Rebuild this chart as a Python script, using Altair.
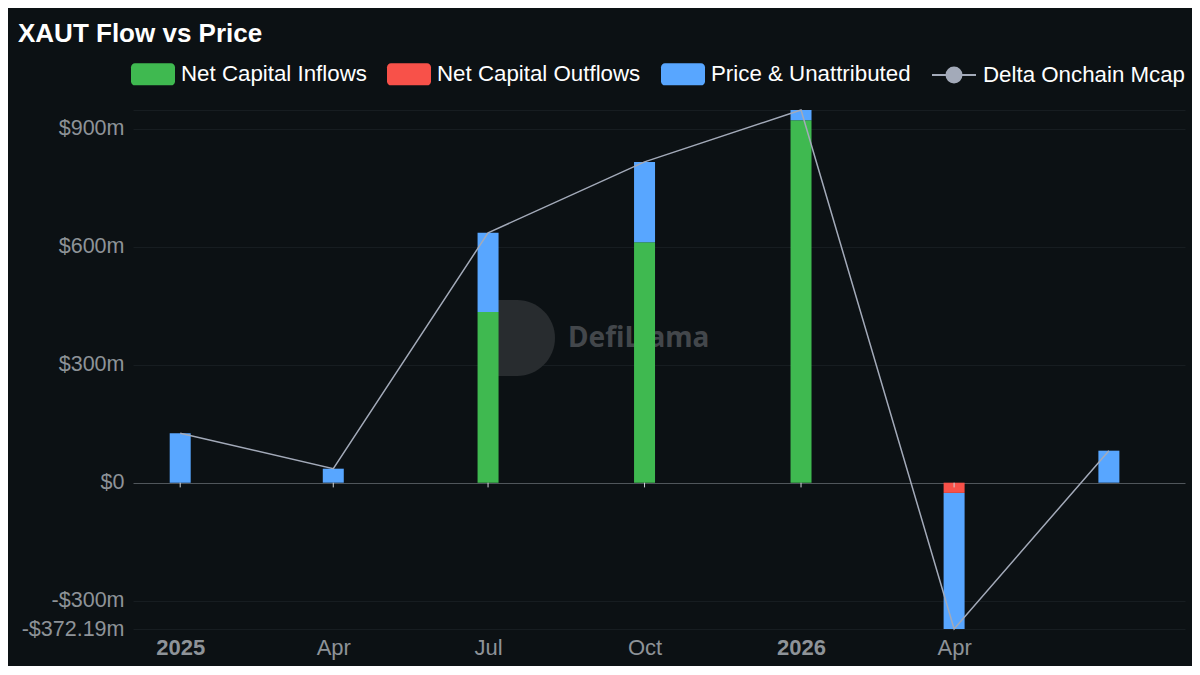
import altair as alt
import pandas as pd

# ---- data ----
quarters = ["2025-01-01", "2025-04-01", "2025-07-01", "2025-10-01",
            "2026-01-01", "2026-04-01", "2026-07-01"]
inflows = [0, 0, 434.4, 611.8, 922.0, 0, 0]
outflows = [0, 0, 0, 0, 0, -26.0, 0]
price_unattr = [126.0, 35.6, 201.2, 204.2, 26.0, -346.19, 81.4]
delta_mcap = [126.0, 35.6, 635.6, 816.0, 948.0, -372.19, 81.4]

components = ["Net Capital Inflows", "Net Capital Outflows", "Price & Unattributed"]
comp_colors = ["#3fb950", "#f85149", "#58a6ff"]
line_name = "Delta Onchain Mcap"
line_color = "#a3aab9"

tick_quarters = quarters[:6]
y_ticks = [-372.19, -300, 0, 300, 600, 900, 948.0]

FONT = "Liberation Sans"
BG = "#0c1114"
AXIS_GREY = "#8e9398"

# ---- tables ----
rows = []
for q, a, b, c in zip(quarters, inflows, outflows, price_unattr):
    for i, (name, v) in enumerate(zip(components, [a, b, c])):
        if v != 0:
            rows.append({"date": q + "T00:00:00", "component": name, "value": v, "ord": i})
bars_df = pd.DataFrame(rows)

line_df = pd.DataFrame({"date": [q + "T00:00:00" for q in quarters],
                        "value": delta_mcap,
                        "series": line_name})
ticks_df = pd.DataFrame({"date": [q + "T00:00:00" for q in tick_quarters]})


def dt(s, hours=0):
    y, m, d = [int(p) for p in s.split("-")]
    return alt.DateTime(year=y, month=m, date=d, hours=hours)


x_scale = alt.Scale(domain=[dt("2024-12-04", 6), dt("2026-08-14", 18)],
                    nice=False, padding=0)
y_scale = alt.Scale(domain=[min(delta_mcap), max(delta_mcap)], nice=False, zero=False)

x_axis = alt.Axis(
    values=[dt(q) for q in tick_quarters],
    labelExpr="month(datum.value) == 0 ? timeFormat(datum.value, '%Y') : timeFormat(datum.value, '%b')",
    labelFontWeight={"condition": {"test": "month(datum.value) == 0", "value": "bold"}, "value": "normal"},
    title=None, grid=False, domain=False, ticks=False,
    labelPadding=8, labelFontSize=22, labelColor=AXIS_GREY, labelFont=FONT,
    labelOverlap=False, labelFlush=False,
)
y_axis = alt.Axis(
    values=y_ticks,
    labelExpr=("datum.value >= 948 ? '' : datum.value == 0 ? '$0' : "
               "(datum.value < 0 ? '-' : '') + '$' + format(abs(datum.value), '.2~f') + 'm'"),
    title=None, domain=False, ticks=False,
    labelPadding=9, labelFontSize=21.5, labelColor=AXIS_GREY, labelFont=FONT,
    labelOverlap=False,
    gridColor={"condition": {"test": "datum.value == 0", "value": "#50565b"}, "value": "#171d21"},
    gridWidth=1,
)

X = alt.X("date:T", scale=x_scale, axis=x_axis)

rrect = ("M-0.82,-0.5L0.82,-0.5A0.18,0.18,0,0,1,1,-0.32L1,0.32A0.18,0.18,0,0,1,0.82,0.5"
         "L-0.82,0.5A0.18,0.18,0,0,1,-1,0.32L-1,-0.32A0.18,0.18,0,0,1,-0.82,-0.5Z")
linedot = "M-1,0L1,0M0.34,0A0.34,0.34,0,1,1,-0.34,0A0.34,0.34,0,1,1,0.34,0Z"

# watermark
logo = alt.Chart(alt.Data(values=[{}])).mark_point(
    shape="M-0.5,-1L0,-1A1,1,0,0,1,0,1L-0.5,1Z", size=5776, filled=True,
    color="#282c2f", opacity=1
).encode(x=alt.value(384), y=alt.value(228))
wm = alt.Chart(alt.Data(values=[{}])).mark_text(
    text="DefiLlama", font="Noto Sans", fontWeight="bold", fontSize=28,
    color="#43474b", align="left", baseline="middle"
).encode(x=alt.value(435), y=alt.value(229))

legend_common = dict(orient="none", legendY=-58, title=None, symbolSize=1936,
                     labelFontSize=22.3, labelColor="#ffffff", labelFont=FONT,
                     labelOffset=6, labelLimit=400, padding=0)

bars = alt.Chart(bars_df).mark_bar(size=21).encode(
    x=X,
    y=alt.Y("value:Q", stack="zero", scale=y_scale, axis=y_axis),
    color=alt.Color("component:N",
                    scale=alt.Scale(domain=components, range=comp_colors),
                    legend=alt.Legend(legendX=-2, direction="horizontal",
                                      symbolType=rrect, symbolStrokeWidth=0,
                                      symbolOpacity=1, columnPadding=20,
                                      **legend_common)),
    order=alt.Order("ord:Q"),
)

ticks = alt.Chart(ticks_df).mark_rule(color="#d0d4d8", strokeWidth=1).encode(
    x=X, y=alt.datum(0), y2=alt.datum(-12)
)

line = alt.Chart(line_df).mark_line(strokeWidth=1.5).encode(
    x=X,
    y=alt.Y("value:Q", scale=y_scale, axis=y_axis),
    stroke=alt.Stroke("series:N",
                      scale=alt.Scale(domain=[line_name], range=[line_color]),
                      legend=alt.Legend(legendX=798, symbolType=linedot,
                                        symbolStrokeWidth=2,
                                        symbolFillColor=line_color,
                                        **legend_common)),
)

chart = alt.layer(logo, wm, bars, ticks, line).properties(
    width=1052, height=519,
    title=alt.TitleParams(text="XAUT Flow vs Price", anchor="start", frame="group",
                          fontSize=26, font=FONT, fontWeight="bold", color="#ffffff",
                          dx=-115, offset=5),
    autosize=alt.AutoSizeParams(type="none"),
    padding={"left": 125, "top": 102, "right": 7, "bottom": 37},
    background=BG,
).configure_view(stroke=None)

chart.save("out.html", embed_options={"renderer": "svg", "actions": False})
